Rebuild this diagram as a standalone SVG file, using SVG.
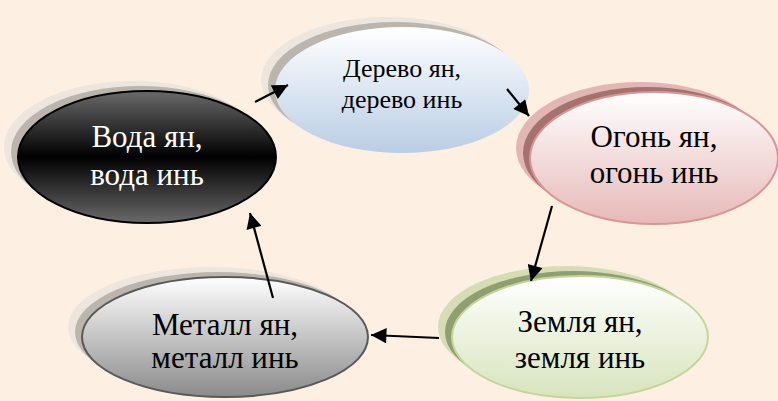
<svg xmlns="http://www.w3.org/2000/svg" width="778" height="401" viewBox="0 0 778 401">
<defs>
<linearGradient id="gWater" x1="0" y1="0" x2="0" y2="1">
<stop offset="0" stop-color="#6a6a6a"/><stop offset="0.5" stop-color="#000"/><stop offset="1" stop-color="#6a6a6a"/>
</linearGradient>
<linearGradient id="gWood" x1="0" y1="0" x2="0" y2="1">
<stop offset="0" stop-color="#fff"/><stop offset="1" stop-color="#b9cde5"/>
</linearGradient>
<linearGradient id="gFire" x1="0" y1="0" x2="0" y2="1">
<stop offset="0" stop-color="#fff"/><stop offset="1" stop-color="#e6b9b8"/>
</linearGradient>
<linearGradient id="gEarth" x1="0" y1="0" x2="0" y2="1">
<stop offset="0" stop-color="#fff"/><stop offset="1" stop-color="#d7e4bd"/>
</linearGradient>
<linearGradient id="gMetal" x1="0" y1="0" x2="0" y2="1">
<stop offset="0" stop-color="#fff"/><stop offset="1" stop-color="#8a8a8a"/>
</linearGradient>
<marker id="ah" viewBox="0 0 10 10" refX="10" refY="5" markerWidth="7.5" markerHeight="7" orient="auto" markerUnits="strokeWidth">
<path d="M0,0 L10,5 L0,10 z" fill="#000"/>
</marker>
<style>
text{font-family:"Liberation Serif","Times New Roman",serif;text-anchor:middle}
.dark{fill:#fff}
.lt{fill:#000}
.conn line{stroke:#000;stroke-width:2.2;marker-end:url(#ah)}
</style>
</defs>
<rect width="778" height="401" fill="#fdefe1"/>
<g id="wood">
<ellipse cx="388" cy="80" rx="127" ry="63" fill="#ece6df"/>
<ellipse cx="395" cy="85" rx="127" ry="63" fill="#bbb5ae"/>
<ellipse cx="402" cy="90" rx="127" ry="63" fill="url(#gWood)"/>
<text class="lt" x="402" y="77" font-size="26">Дерево ян,</text>
<text class="lt" x="402" y="108" font-size="26">дерево инь</text>
</g>
<g id="water">
<ellipse cx="133" cy="147" rx="129" ry="66" fill="#ece6df"/>
<ellipse cx="140" cy="152" rx="129" ry="66" fill="#bbb5ae"/>
<ellipse cx="147" cy="157" rx="129" ry="66" fill="url(#gWater)" stroke="#000" stroke-width="2"/>
<text class="dark" x="147" y="147" font-size="31">Вода ян,</text>
<text class="dark" x="147" y="185" font-size="31">вода инь</text>
</g>
<g id="fire">
<ellipse cx="640" cy="148" rx="124" ry="66" fill="#e2b7b3"/>
<ellipse cx="647" cy="153" rx="124" ry="66" fill="#a5736f"/>
<ellipse cx="654" cy="158" rx="124" ry="66" fill="url(#gFire)" stroke="#d99694" stroke-width="2"/>
<text class="lt" x="654" y="147" font-size="31">Огонь ян,</text>
<text class="lt" x="654" y="183" font-size="31">огонь инь</text>
</g>
<g id="earth">
<ellipse cx="566" cy="327" rx="128" ry="61" fill="#d6dcb4"/>
<ellipse cx="573" cy="332" rx="128" ry="61" fill="#909f72"/>
<ellipse cx="580" cy="337" rx="128" ry="61" fill="url(#gEarth)" stroke="#c3d69b" stroke-width="2"/>
<text class="lt" x="580" y="332" font-size="31">Земля ян,</text>
<text class="lt" x="580" y="368" font-size="31">земля инь</text>
</g>
<g id="metal">
<ellipse cx="211" cy="327" rx="143" ry="60" fill="#ece6df"/>
<ellipse cx="218" cy="332" rx="143" ry="60" fill="#bbb5ae"/>
<ellipse cx="225" cy="337" rx="143" ry="60" fill="url(#gMetal)" stroke="#595959" stroke-width="2"/>
<text class="lt" x="225" y="335" font-size="31">Металл ян,</text>
<text class="lt" x="225" y="368" font-size="31">металл инь</text>
</g>
<g id="conn" class="conn">
<line x1="255" y1="102" x2="288" y2="85"/>
<line x1="507" y1="89" x2="529" y2="116"/>
<line x1="552" y1="206" x2="531" y2="281"/>
<line x1="439" y1="338" x2="371" y2="335"/>
<line x1="273" y1="298" x2="250" y2="213"/>
</g>
</svg>
